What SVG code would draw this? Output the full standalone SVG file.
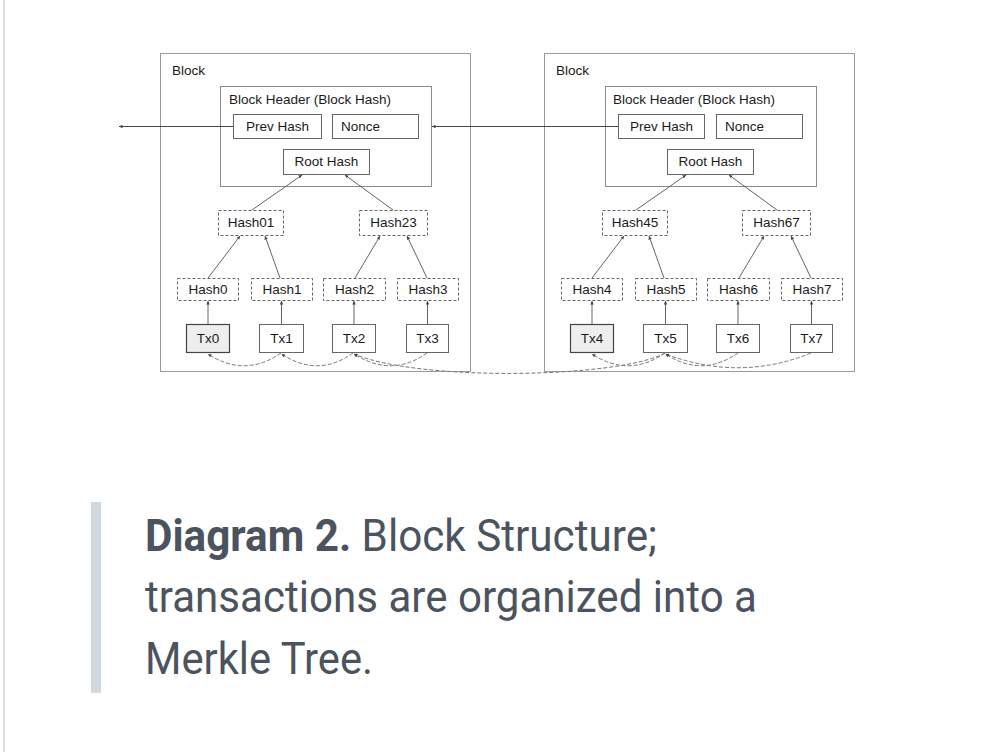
<svg xmlns="http://www.w3.org/2000/svg" width="1007" height="752" viewBox="0 0 1007 752">
<style>
.blk{fill:#fff;stroke:#9a9a9a;stroke-width:1}
.hdr{fill:#fff;stroke:#8a8a8a;stroke-width:1}
.box{fill:#fff;stroke:#666;stroke-width:1}
.dbox{fill:#fff;stroke:#666;stroke-width:1;stroke-dasharray:3,2}
.tx0{fill:#eeeeee;stroke:#444;stroke-width:1.2}
.t{font-family:"Liberation Sans",Arial,sans-serif;font-size:13.5px;fill:#1a1a1a}
.c{text-anchor:middle}
.edge{stroke:#555;stroke-width:0.9;fill:none;marker-end:url(#ah)}
.ref{stroke:#333;stroke-width:0.9;fill:none;marker-end:url(#ah)}
.dash{stroke:#777;stroke-width:1;fill:none;stroke-dasharray:4,2;marker-end:url(#ah)}
.cap{font-family:Roboto,"Liberation Sans",sans-serif;font-size:44px;fill:#4b535e}
</style>
<defs>
<marker id="ah" viewBox="0 0 6 6" refX="6" refY="3" markerWidth="3.5" markerHeight="3.5" markerUnits="userSpaceOnUse" orient="auto">
<path d="M0,0 L6,3 L0,6 z" fill="#444"/>
</marker>
</defs>
<rect x="0" y="0" width="1007" height="752" fill="#fff"/>
<rect x="3" y="0" width="2" height="752" fill="#dedede"/>

<g id="block1">
<rect class="blk" x="160.5" y="53.5" width="310" height="318"/>
<text class="t" x="172" y="75">Block</text>
<rect class="hdr" x="220.5" y="86.5" width="211" height="100"/>
<text class="t" x="229" y="104">Block Header (Block Hash)</text>
</g>
<g id="prev1"><rect class="box" x="233.5" y="114.5" width="88" height="24"/><text class="t c" x="277.5" y="131">Prev Hash</text></g>
<g id="nonce1"><rect class="box" x="332.5" y="114.5" width="86" height="24"/><text class="t" x="341" y="131">Nonce</text></g>
<g id="root1"><rect class="box" x="283.5" y="149.5" width="86" height="25"/><text class="t c" x="326.5" y="166">Root Hash</text></g>
<g id="hash01"><rect class="dbox" x="218.5" y="210.5" width="65" height="25"/><text class="t c" x="251" y="227">Hash01</text></g>
<g id="hash23"><rect class="dbox" x="359.5" y="210.5" width="68" height="25"/><text class="t c" x="393.5" y="227">Hash23</text></g>
<g id="hash0"><rect class="dbox" x="177.5" y="278.5" width="61" height="22"/><text class="t c" x="208" y="294">Hash0</text></g>
<g id="hash1"><rect class="dbox" x="251.5" y="278.5" width="61" height="22"/><text class="t c" x="282" y="294">Hash1</text></g>
<g id="hash2"><rect class="dbox" x="323.5" y="278.5" width="62" height="22"/><text class="t c" x="354.5" y="294">Hash2</text></g>
<g id="hash3"><rect class="dbox" x="397.5" y="278.5" width="61" height="22"/><text class="t c" x="428" y="294">Hash3</text></g>
<g id="tx0"><rect class="tx0" x="186.5" y="324.5" width="43" height="28"/><text class="t c" x="208" y="343">Tx0</text></g>
<g id="tx1"><rect class="box" x="259.5" y="324.5" width="44" height="28"/><text class="t c" x="281.5" y="343">Tx1</text></g>
<g id="tx2"><rect class="box" x="332.5" y="324.5" width="43" height="28"/><text class="t c" x="354" y="343">Tx2</text></g>
<g id="tx3"><rect class="box" x="406.5" y="324.5" width="42" height="28"/><text class="t c" x="427.5" y="343">Tx3</text></g>

<g id="block2">
<rect class="blk" x="544.5" y="53.5" width="310" height="318"/>
<text class="t" x="556" y="75">Block</text>
<rect class="hdr" x="605.5" y="86.5" width="211" height="100"/>
<text class="t" x="613" y="104">Block Header (Block Hash)</text>
</g>
<g id="prev2"><rect class="box" x="618.5" y="114.5" width="86" height="24"/><text class="t c" x="661.5" y="131">Prev Hash</text></g>
<g id="nonce2"><rect class="box" x="716.5" y="114.5" width="86" height="24"/><text class="t" x="725" y="131">Nonce</text></g>
<g id="root2"><rect class="box" x="667.5" y="149.5" width="86" height="25"/><text class="t c" x="710.5" y="166">Root Hash</text></g>
<g id="hash45"><rect class="dbox" x="602.5" y="210.5" width="65" height="25"/><text class="t c" x="635" y="227">Hash45</text></g>
<g id="hash67"><rect class="dbox" x="742.5" y="210.5" width="68" height="25"/><text class="t c" x="776.5" y="227">Hash67</text></g>
<g id="hash4"><rect class="dbox" x="561.5" y="278.5" width="61" height="22"/><text class="t c" x="592" y="294">Hash4</text></g>
<g id="hash5"><rect class="dbox" x="635.5" y="278.5" width="61" height="22"/><text class="t c" x="666" y="294">Hash5</text></g>
<g id="hash6"><rect class="dbox" x="707.5" y="278.5" width="62" height="22"/><text class="t c" x="738.5" y="294">Hash6</text></g>
<g id="hash7"><rect class="dbox" x="781.5" y="278.5" width="61" height="22"/><text class="t c" x="812" y="294">Hash7</text></g>
<g id="tx4"><rect class="tx0" x="570.5" y="324.5" width="43" height="28"/><text class="t c" x="592" y="343">Tx4</text></g>
<g id="tx5"><rect class="box" x="643.5" y="324.5" width="44" height="28"/><text class="t c" x="665.5" y="343">Tx5</text></g>
<g id="tx6"><rect class="box" x="716.5" y="324.5" width="43" height="28"/><text class="t c" x="738" y="343">Tx6</text></g>
<g id="tx7"><rect class="box" x="790.5" y="324.5" width="42" height="28"/><text class="t c" x="811.5" y="343">Tx7</text></g>

<g id="connectors">
<line class="ref" x1="233" y1="126.5" x2="119" y2="126.5"/>
<line class="ref" x1="618" y1="126.5" x2="432" y2="126.5"/>
<line class="edge" x1="252" y1="210" x2="302" y2="175"/>
<line class="edge" x1="393" y1="210" x2="345" y2="175"/>
<line class="edge" x1="208" y1="278" x2="240" y2="236"/>
<line class="edge" x1="280" y1="278" x2="265" y2="236"/>
<line class="edge" x1="355" y1="278" x2="380" y2="236"/>
<line class="edge" x1="427" y1="278" x2="407" y2="236"/>
<line class="edge" x1="208" y1="324" x2="208" y2="301"/>
<line class="edge" x1="281.5" y1="324" x2="281.5" y2="301"/>
<line class="edge" x1="354" y1="324" x2="354" y2="301"/>
<line class="edge" x1="427.5" y1="324" x2="427.5" y2="301"/>
<line class="edge" x1="636" y1="210" x2="686" y2="175"/>
<line class="edge" x1="777" y1="210" x2="729" y2="175"/>
<line class="edge" x1="592" y1="278" x2="624" y2="236"/>
<line class="edge" x1="664" y1="278" x2="649" y2="236"/>
<line class="edge" x1="739" y1="278" x2="764" y2="236"/>
<line class="edge" x1="811" y1="278" x2="791" y2="236"/>
<line class="edge" x1="592" y1="324" x2="592" y2="301"/>
<line class="edge" x1="665.5" y1="324" x2="665.5" y2="301"/>
<line class="edge" x1="738" y1="324" x2="738" y2="301"/>
<line class="edge" x1="811.5" y1="324" x2="811.5" y2="301"/>
<path class="dash" d="M281,353 Q245,378 208,354"/>
<path class="dash" d="M353,353 Q318,378 281.5,354"/>
<path class="dash" d="M427,353 Q392,378 354,354"/>
<path class="dash" d="M665,353 C620,378 420,382 354,354"/>
<path class="dash" d="M665,353 Q629,378 592,354"/>
<path class="dash" d="M738,353 Q702,378 665.5,354"/>
<path class="dash" d="M811,353 Q740,382 665.5,354"/>
</g>

<g id="caption">
<rect x="91" y="502" width="10" height="191" fill="#d1d7df"/>
<text class="cap" x="145" y="551" textLength="512" lengthAdjust="spacingAndGlyphs"><tspan font-weight="bold">Diagram 2.</tspan> Block Structure;</text>
<text class="cap" x="145" y="612" textLength="612" lengthAdjust="spacingAndGlyphs">transactions are organized into a</text>
<text class="cap" x="145" y="674" textLength="228" lengthAdjust="spacingAndGlyphs">Merkle Tree.</text>
</g>
</svg>
